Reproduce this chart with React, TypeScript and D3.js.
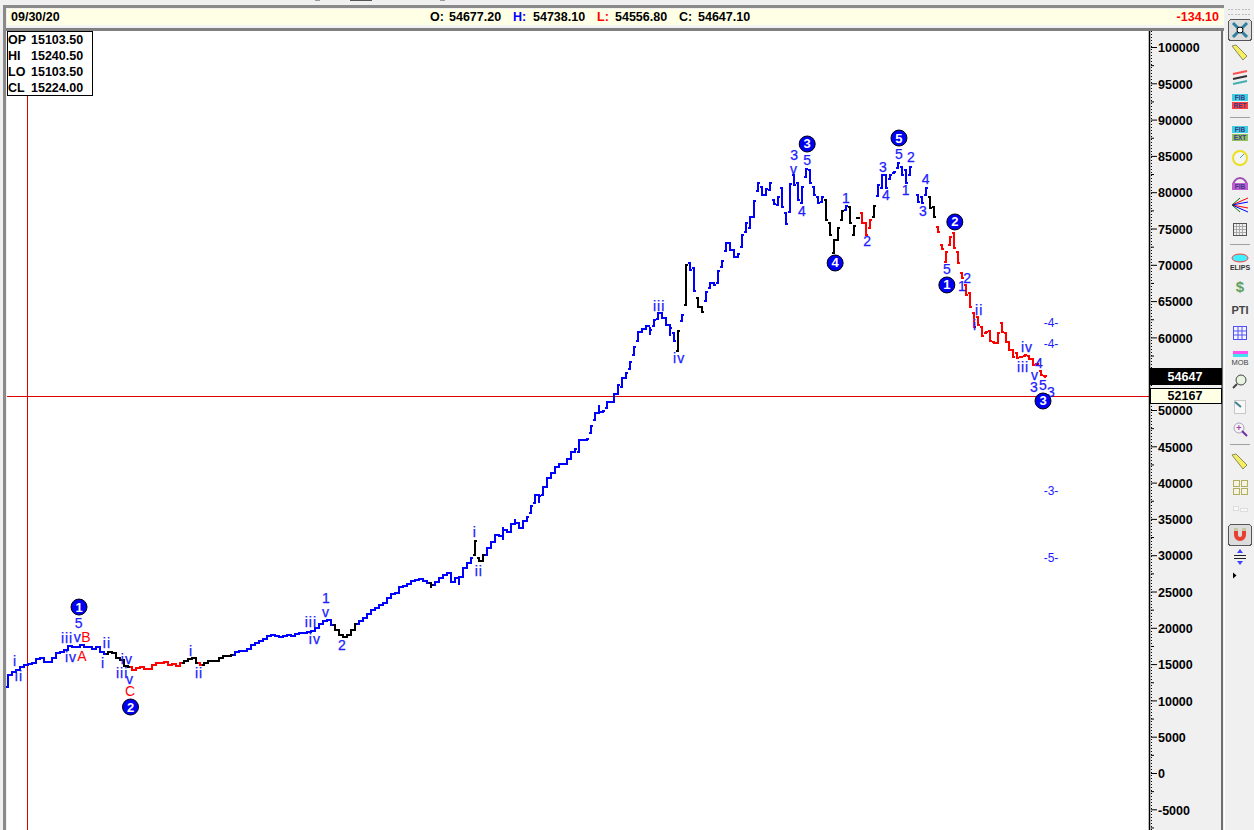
// App.tsx
import React, { useEffect, useRef } from 'react';
import * as d3 from 'd3';

// closes by bar
const closesEarly = [
  13500, 13960, 14190, 14550, 14880, 15010, 15200, 15650, 15790, 15340, 15340, 15790, 16480, 16670, 16940, 17490,
  17310, 17310, 17630, 17400, 17400, 17030, 17310, 16710, 16390, 16650, 16500, 15890, 15500, 14740, 14650, 14190,
  14420, 14550, 14280, 14330, 14880, 15200, 15100, 15290, 14920, 15010, 14740, 15200, 15430, 15700, 15840, 15200,
  14880, 15100, 15430, 15470, 15470, 15790, 16110, 16150, 16240, 16710, 16800, 16800, 17030, 17630, 17950,
];
const closesMid = [
  18230, 18460, 18870, 18960, 18870, 18730, 18870, 18960, 18870, 19150, 19240, 19280, 19380, 19600, 19930, 20520,
  20980, 21070, 20390, 19700, 19010, 18730, 19010, 19700, 20480, 20980, 21300, 21900, 22450, 22770, 23140, 23460,
  24060, 24660, 24840, 25570, 25760, 26030, 26490, 26580, 26680, 26490, 26220, 25900, 26350, 26810, 27270, 27590,
  26350, 26810, 27040, 28190, 28970, 29660, 32000, 29250, 30030, 30950, 31860, 32780,
];
const closesRally = [
  32690, 33470, 33240, 34300, 34390, 33700, 34760, 35310, 36780, 38290, 38150, 39440, 40590, 41370, 42190, 42520,
  42520, 43200, 44170, 44580, 45870, 45870, 46000, 47800, 49540, 49770, 49910, 51060, 51150, 52200, 53440, 54360,
  55140, 56660, 58720, 60790, 61110, 61570, 61020, 62400, 63320, 62630, 61710, 61250, 59550, 60930, 63090, 69970,
  69280, 66440, 64140, 63540, 66300, 67450, 67220, 69190, 70570, 72960, 72040, 71030, 71490, 74100, 75800,
];
const closesTop = [
  76630, 78788, 81221, 79614, 80395, 81221, 78375, 79293, 77916, 75620, 81129, 80991, 78926, 80762, 83149, 81313,
  79614, 78466, 79385, 76171, 74105, 73416, 75023, 77456, 78099, 75712, 75344, 76400, 75804, 74105, 76171, 78099,
  80991, 82369, 80532, 82369, 82828, 83976, 82369, 81313, 83517, null, 78696, 78466, 80532, 77778, 76538,
];
const closesDecline = [
  74564, 72131, 71809, 73875, 72269, 70294, 68136, 65841, 64234, 61480, 61709, 60194, 60790, 59551, 59184, 60561,
  60790, 59413, 58265, 57347, 57117, 57255, 57577, 57026, 56199, 56337, 54823, 54647.1,
];

const opensTop = [
  75023, 76630, 80211, 80762, 79614, 80303, 78926, 78237, 80624, 77089, 77319, 82369, 81221, 78466, 82139, 83057,
  80762, 79293, 78696, 78926, 75712, 71672, 73416, 76171, 77548, 77916, 74105, 76500, 77181, 75712, 75023, 76630,
  79476, 80532, 82369, 81772, 82598, 83287, 83517, 83057, 82369, null, 79614, 79385, 79614, 79293, 78007,
];
const opensDecline = [
  75253, 72728, 70432, 72728, 74334, 71809, 68825, 67218, 66070, 63316, 62857, 61388, 60561, 60928, 59413, 59184,
  61939, 60561, 59413, 58265, 57807, 57300, 57400, 57485, 57026, 56300, 55400, 54677.2,
];
// earlier bars open on the previous close, except these [bar, open]
const openGaps = [
  [0, 11850], [117, 30030], [118, 29570], [131, 35770], [132, 37140], [134, 38290], [143, 44260], [146, 46790],
  [147, 48620], [150, 50230], [154, 53210], [156, 55600], [157, 57580], [158, 59550], [162, 61570], [163, 62530],
  [167, 60560], [168, 58170], [169, 62260], [170, 64460], [171, 70200], [172, 69510], [173, 65380], [174, 64140],
  [175, 65010], [176, 66760], [178, 67450], [179, 69740], [180, 71950], [184, 72500], [185, 74560],
];
// [bar, high, low] where the range goes past open and close
const wicks = [
  [106, 26220, 25670], [113, 27040, 26030], [124, 33700, 32230], [127, 34850, 34300], [133, 38290, 37370],
  [148, 50550, 49540], [161, 61250, 60470], [166, 61710, 60330], [260, 54738.1, 54556.8],
];

// colour of consecutive bars: [colour key, bar count]
const colorRuns: [string, number][] = [
  ['u', 25], ['k', 6], ['r', 13], ['k', 4], ['r', 1], ['k', 8], ['u', 25], ['k', 6], ['u', 18], ['k', 1], ['u', 10],
  ['k', 3], ['u', 48], ['k', 1], ['u', 1], ['k', 1], ['u', 2], ['k', 2], ['u', 30], ['k', 5], ['u', 1], ['k', 3],
  ['r', 3], ['k', 1], ['u', 13], ['k', 2], ['r', 28],
];
const barColors: Record<string, string> = { u: '#0000ff', k: '#000000', r: '#ff0000' };

// wave labels: [text, bar, price]
const waveLabels: [string, number, number][] = [
  ['i', 1.75, 15430], ['ii', 2.75, 13360], ['5', 17.7, 20660], ['iii', 14.8, 18600], ['v', 17.5, 18730],
  ['iv', 15.8, 15980], ['ii', 24.8, 17910], ['i', 23.8, 15150], ['iv', 29.8, 15700], ['iii', 28.6, 13770],
  ['v', 30.6, 12950], ['i', 45.9, 16800], ['ii', 47.9, 13770], ['1', 79.7, 24100], ['v', 79.7, 22180],
  ['iii', 75.9, 20800], ['iv', 76.9, 18460], ['2', 83.7, 17630], ['i', 117, 33200], ['ii', 118, 27820],
  ['iii', 163.2, 64320], ['iv', 168.2, 57160], ['3', 197, 85120], ['v', 197, 83200], ['5', 200.3, 84430],
  ['4', 199, 77410], ['1', 210, 79200], ['2', 215.3, 73280], ['3', 219.3, 83470], ['4', 220, 79610],
  ['5', 223.3, 85260], ['2', 226.3, 84850], ['1', 225, 80300], ['4', 230, 81820], ['3', 229.3, 77410],
  ['5', 235.3, 69420], ['1', 239.1, 67080], ['2', 240.4, 68180], ['ii', 243.4, 63770], ['i', 242.4, 61710],
  ['iv', 255.4, 58680], ['iii', 254.4, 55920], ['4', 258.4, 56470], ['v', 257.4, 54820], ['3', 257.1, 53170],
  ['5', 259.4, 53440], ['3', 261.4, 52480],
];
const correctionLabels: [string, number, number][] = [
  ['B', 19.5, 18730], ['A', 18.5, 16120], ['C', 30.6, 11290],
];
const circleLabels: [string, number, number][] = [
  ['1', 17.8, 22860], ['2', 30.7, 9090], ['3', 200.3, 86640], ['4', 207.3, 70250], ['5', 223.3, 87460],
  ['2', 237.3, 75900], ['1', 235.3, 67220], ['3', 259.4, 51240],
];
const projectionLabels: [string, number, number][] = [
  ['-4-', 261.4, 61980], ['-4-', 261.4, 59090], ['-3-', 261.4, 38840], ['-5-', 261.4, 29610],
];

const majorTicks = [
  100000, 95000, 90000, 85000, 80000, 75000, 70000, 65000, 60000, 50000, 45000, 40000, 35000, 30000, 25000,
  20000, 15000, 10000, 5000, 0, -5000,
];
const minorTicks = [
  97500, 92500, 87500, 82500, 77500, 72500, 67500, 62500, 57500, 47500, 42500, 37500, 32500, 27500, 22500,
  17500, 12500, 7500, 2500, -2500, -7500,
];

const ohlcBox = [['OP', '15103.50'], ['HI', '15240.50'], ['LO', '15103.50'], ['CL', '15224.00']];
const quote = [
  ['O:', '54677.20', '#000000'], ['H:', '54738.10', '#0000ff'], ['L:', '54556.80', '#ff0000'], ['C:', '54647.10', '#000000'],
];
const quoteX = [430, 513, 597, 679];
const quoteValueX = [449, 533, 615, 698];

const FONT = '"Liberation Sans", Arial, sans-serif';

const App: React.FC = () => {
  const svgRef = useRef<SVGSVGElement>(null);

  useEffect(() => {
    if (!svgRef.current) return;
    const svg = d3.select(svgRef.current);
    svg.selectAll('*').remove();
    svg.attr('font-family', FONT);

    const rect = (x: number, y: number, w: number, h: number, fill: string, stroke?: string) =>
      svg.append('rect').attr('x', x).attr('y', y).attr('width', w).attr('height', h)
        .attr('fill', fill).attr('stroke', stroke || 'none').attr('shape-rendering', 'crispEdges');
    const line = (x1: number, y1: number, x2: number, y2: number, c: string, w = 1) =>
      svg.append('line').attr('x1', x1).attr('y1', y1).attr('x2', x2).attr('y2', y2)
        .attr('stroke', c).attr('stroke-width', w);
    const text = (s: string, x: number, y: number, fill = '#000', size = 12.5, weight = 'bold', anchor = 'start') =>
      svg.append('text').text(s).attr('x', x).attr('y', y).attr('fill', fill).attr('font-size', size)
        .attr('font-weight', weight).attr('text-anchor', anchor).attr('dominant-baseline', 'central');

    // window chrome
    rect(0, 0, 1254, 830, '#f0f0f0');
    rect(315, 0, 5, 1, '#9a9a9a');
    rect(350, 0, 22, 1, '#555555');
    rect(440, 0, 5, 1, '#9a9a9a');
    rect(3, 5, 1221, 3, '#8a8a8a');
    rect(3, 5, 3, 825, '#8a8a8a');
    rect(7, 9, 1217, 16, '#ffffe6');
    rect(7, 25, 1217, 2, '#f4f4f4');
    rect(6, 28, 1218, 3, '#808080');
    rect(7, 31, 1143, 799, '#ffffff');
    rect(1221, 31, 2, 799, '#6e6e6e');

    // header quote
    text('09/30/20', 11, 17);
    quote.forEach((q, i) => {
      text(q[0], quoteX[i], 17, q[2]);
      text(q[1], quoteValueX[i], 17);
    });
    text('-134.10', 1219, 17, '#ff0000', 12.5, 'bold', 'end');

    const closes = [...closesEarly, ...closesMid, ...closesRally, ...closesTop, ...closesDecline];
    const lastBar = closes.length - 1;
    const x = d3.scaleLinear().domain([0, lastBar]).range([8, 1045.4]);
    const y = d3.scaleLinear().domain([-5000, 100000]).range([809.3, 47]);

    const colors = colorRuns.flatMap(([c, n]) => d3.range(n).map(() => barColors[c]));
    const openOf = new Map(openGaps.map(d => [d[0], d[1]]));
    opensTop.forEach((o, i) => openOf.set(186 + i, o as number));
    opensDecline.forEach((o, i) => openOf.set(233 + i, o));
    const wickOf = new Map(wicks.map(d => [d[0], d]));

    const bars = closes.map((close, i) => {
      if (close === null) return null;
      const open = openOf.has(i) ? (openOf.get(i) as number) : (closes[i - 1] as number);
      const w = wickOf.get(i);
      return {
        i, open, close,
        high: w ? w[1] : Math.max(open, close),
        low: w ? w[2] : Math.min(open, close),
        color: colors[i],
      };
    }).filter(Boolean) as { i: number; open: number; close: number; high: number; low: number; color: string }[];

    // crosshair
    line(27.5, 31, 27.5, 830, '#e00000');
    line(7, 396.5, 1150, 396.5, '#e00000');

    // hlc bars
    const gBars = svg.append('g').attr('shape-rendering', 'crispEdges').attr('stroke-width', 2);
    const gBar = gBars.selectAll('g').data(bars).enter().append('g').attr('stroke', d => d.color);
    gBar.append('line')
      .attr('x1', d => Math.round(x(d.i))).attr('x2', d => Math.round(x(d.i)))
      .attr('y1', d => y(d.high) - 1).attr('y2', d => y(d.low) + 1);
    gBar.append('line')
      .attr('x1', d => Math.round(x(d.i)) - 2).attr('x2', d => Math.round(x(d.i)))
      .attr('y1', d => y(d.open)).attr('y2', d => y(d.open));
    gBar.append('line')
      .attr('x1', d => Math.round(x(d.i))).attr('x2', d => Math.round(x(d.i)) + 2)
      .attr('y1', d => y(d.close)).attr('y2', d => y(d.close));

    // wave counts
    waveLabels.forEach(d => {
      const t = text(d[0], x(d[1]), y(d[2]), '#2020ff', 14, 'normal', 'middle')
        .attr('stroke', '#2020ff').attr('stroke-width', 0.25);
      if (/^[iv]+$/.test(d[0])) t.attr('letter-spacing', 1);
    });
    correctionLabels.forEach(d => text(d[0], x(d[1]), y(d[2]), '#ff0000', 14, 'normal', 'middle'));
    projectionLabels.forEach(d => text(d[0], x(d[1]), y(d[2]), '#1a1aff', 12, 'normal', 'middle'));
    circleLabels.forEach(d => {
      svg.append('circle').attr('cx', x(d[1])).attr('cy', y(d[2])).attr('r', 8)
        .attr('fill', '#0000f0').attr('stroke', '#000010').attr('stroke-width', 1);
      text(d[0], x(d[1]), y(d[2]), '#ffffff', 13, 'bold', 'middle');
    });

    // ohlc box
    rect(7.5, 31.5, 85, 64, '#ffffff', '#000000');
    ohlcBox.forEach((r, i) => {
      text(r[0], 8, 39.5 + i * 16);
      text(r[1], 31, 39.5 + i * 16);
    });

    // price axis
    line(1149.5, 31, 1149.5, 830, '#000000', 1.5);
    line(1151.5, 31, 1151.5, 830, '#000000', 1).attr('stroke-dasharray', '1 2');
    const axisMajor = d3.axisRight(y)
      .tickValues(majorTicks)
      .tickSize(6).tickPadding(1).tickFormat(d => String(d));
    const gAxis = svg.append('g').attr('transform', 'translate(1151,0)').call(axisMajor);
    gAxis.select('.domain').remove();
    gAxis.selectAll('text').attr('font-family', FONT).attr('font-size', 12.5).attr('font-weight', 'bold')
      .attr('fill', '#000').attr('dy', '0.38em');
    const axisMinor = d3.axisRight(y).tickValues(minorTicks).tickSize(3).tickFormat(() => '');
    const gMinor = svg.append('g').attr('transform', 'translate(1151,0)').call(axisMinor);
    gMinor.select('.domain').remove();

    // last price and cursor price
    rect(1150, 368, 72, 17, '#000000');
    text('54647', 1185, 376.5, '#ffffff', 12.5, 'bold', 'middle');
    rect(1150.5, 388.5, 71, 15, '#ffffe6', '#000000');
    text('52167', 1185, 396, '#000000', 12.5, 'bold', 'middle');

    // toolbar
    const cx = 1240;
    rect(1224, 0, 30, 830, '#f0f0f0');
    rect(1224, 31, 1, 799, '#ffffff');
    for (let i = 0; i < 7; i++) rect(1228 + i * 3.4, 9, 2, 1, '#bdbdbd');
    for (let i = 0; i < 7; i++) rect(1228 + i * 3.4, 14, 2, 1, '#bdbdbd');
    [117, 244, 444].forEach(sy => rect(1230, sy, 20, 1, '#a0a0a0'));

    const tile = (s: string, sy: number, fill: string) => {
      rect(cx - 8, sy - 3.5, 16, 7, fill);
      text(s, cx, sy, '#3a3a8a', 6.5, 'bold', 'middle');
    };
    const pencil = (sy: number) => {
      svg.append('path').attr('d', `M${cx - 8},${sy - 7}L${cx - 4},${sy - 8}L${cx + 7},${sy + 3}L${cx + 3},${sy + 7}Z`)
        .attr('fill', '#f4ee60').attr('stroke', '#8a8a60');
    };
    // selected pointer
    rect(1228.5, 19.5, 23, 21, '#dcdcdc', '#555555').attr('rx', 3);
    line(cx - 7, 23, cx + 7, 37, '#2f7f9f', 3);
    line(cx + 7, 23, cx - 7, 37, '#2f7f9f', 3);
    svg.append('circle').attr('cx', cx).attr('cy', 30).attr('r', 3).attr('fill', '#fff').attr('stroke', '#000');
    pencil(53);
    line(cx - 7, 74, cx + 7, 71, '#ff5050', 2);
    line(cx - 7, 79, cx + 7, 76, '#333333', 2);
    line(cx - 7, 84, cx + 7, 81, '#40b0b0', 2);
    tile('FIB', 97, '#40d0e0');
    tile('RET', 105, '#ff4040');
    tile('FIB', 129, '#40d0e0');
    tile('EXT', 137, '#90c060');
    svg.append('circle').attr('cx', cx).attr('cy', 158).attr('r', 7).attr('fill', '#f4f4f4').attr('stroke', '#e8e020').attr('stroke-width', 2);
    line(cx, 158, cx + 4, 154, '#40a0c0', 1);
    svg.append('path').attr('d', `M${cx - 7},186A7,8 0 0 1 ${cx + 7},186`).attr('fill', 'none').attr('stroke', '#a050b0').attr('stroke-width', 2);
    tile('FIB', 186, '#c060d0');
    [[-7, 'red'], [-3, 'blue'], [3, 'red'], [7, 'blue']].forEach(([d, c]) =>
      line(cx - 8, 205, cx + 8, 205 + (d as number), c as string));
    line(cx - 8, 205, cx, 212, 'green');
    line(cx - 8, 205, cx, 198, 'green');
    rect(cx - 6.5, 223.5, 13, 12, '#f0f0f0', '#555555');
    [3, 6, 9].forEach(d => {
      line(cx - 6.5 + d, 224, cx - 6.5 + d, 235, '#aaaaaa');
      line(cx - 6, 223.5 + d, cx + 6, 223.5 + d, '#aaaaaa');
    });
    svg.append('ellipse').attr('cx', cx).attr('cy', 258).attr('rx', 8).attr('ry', 4).attr('fill', '#40f0ff').attr('stroke', '#ff4040');
    text('ELIPS', cx, 267, '#333333', 7, 'bold', 'middle');
    text('$', cx, 286, '#60a060', 15, 'bold', 'middle');
    text('PTI', cx, 309.5, '#444444', 11, 'bold', 'middle');
    rect(cx - 6.5, 326.5, 13, 13, '#f4f4ff', '#5050ff');
    line(cx - 2, 327, cx - 2, 339, '#5050ff');
    line(cx + 2, 327, cx + 2, 339, '#5050ff');
    line(cx - 6, 331, cx + 6, 331, '#5050ff');
    line(cx - 6, 335, cx + 6, 335, '#5050ff');
    rect(cx - 7, 351, 15, 3, '#ff50f0');
    rect(cx - 7, 354, 15, 3, '#40e0f0');
    text('MOB', cx, 362, '#444444', 7.5, 'normal', 'middle');
    svg.append('circle').attr('cx', cx + 1).attr('cy', 380).attr('r', 5).attr('fill', '#e8f4e0').attr('stroke', '#444');
    line(cx - 3, 384, cx - 7, 388, '#444444', 2);
    rect(cx - 6, 400, 11, 13, '#f8f8f8', '#c8c8c8');
    line(cx - 5, 402, cx + 1, 407, '#408090', 2);
    svg.append('circle').attr('cx', cx - 1).attr('cy', 428).attr('r', 5).attr('fill', '#f4f4f4').attr('stroke', '#b0a0c0');
    line(cx + 2, 431, cx + 7, 436, '#7030a0', 2);
    text('+', cx - 1, 428, '#a040a0', 9, 'bold', 'middle');
    pencil(462);
    [[-7, 480], [1, 480], [-7, 488], [1, 488]].forEach(([d, sy]) => rect(cx + d, sy, 6, 6, '#f4f4e0', '#b0b060'));
    rect(cx - 7, 506, 5, 4, '#f8f8f8', '#dddddd');
    rect(cx, 508, 7, 3, '#f8f8f8', '#dddddd');
    rect(1228.5, 524.5, 23, 21, '#dcdcdc', '#555555').attr('rx', 3);
    svg.append('path').attr('d', `M${cx - 6},528V535A6,6 0 0 0 ${cx + 6},535V528H${cx + 2}V535A2,2 0 0 1 ${cx - 2},535V528Z`).attr('fill', '#e84030');
    rect(cx - 6, 528, 4, 3, '#c8c8a0');
    rect(cx + 2, 528, 4, 3, '#c8c8a0');
    line(cx - 6, 555.5, cx + 6, 555.5, '#222222');
    line(cx - 6, 558.5, cx + 6, 558.5, '#222222');
    svg.append('path').attr('d', `M${cx - 3},553L${cx + 3},553L${cx},549Z`).attr('fill', '#4040ff');
    svg.append('path').attr('d', `M${cx - 3},561L${cx + 3},561L${cx},565Z`).attr('fill', '#4040ff');
    svg.append('path').attr('d', `M${cx - 7},572.5L${cx - 3.5},575.5L${cx - 7},578.5Z`).attr('fill', '#000000');
  }, []);

  return (
    <svg ref={svgRef} width={1254} height={830} style={{ position: 'absolute', left: 0, top: 0, display: 'block' }} />
  );
};

export default App;
